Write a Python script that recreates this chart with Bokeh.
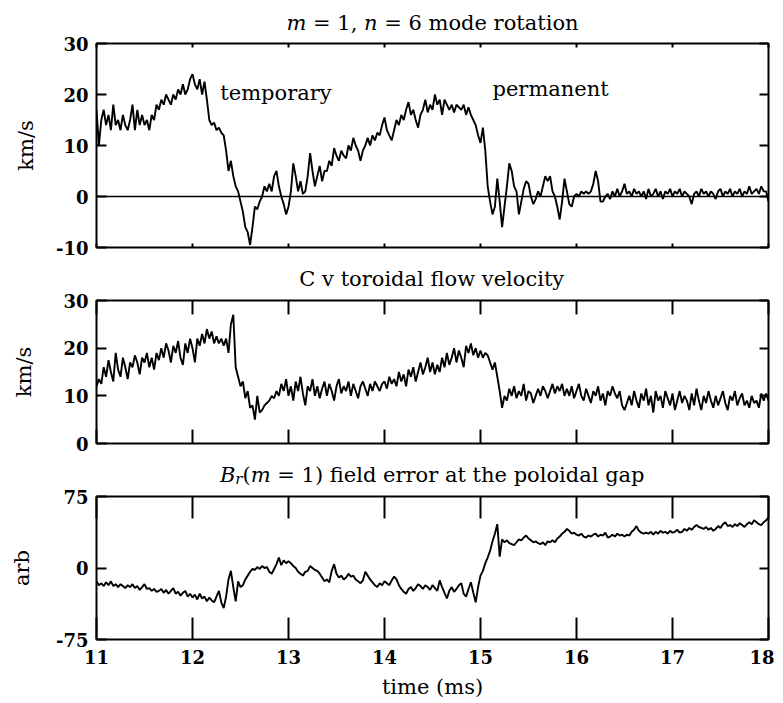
import numpy as np
from bokeh.plotting import figure
from bokeh.models import Range1d, FixedTicker, LinearAxis, Label, Span
from bokeh.layouts import column
from bokeh.embed import file_html
from bokeh.resources import INLINE

# ---------------- data ----------------
x_ticks = [11, 12, 13, 14, 15, 16, 17, 18]

# m=1, n=6 mode rotation (km/s), sampled every 0.025 ms from 11 to 18 ms
rotation = [
    17, 10, 15, 17, 14, 16, 13, 18, 14, 15, 13, 16, 14, 13, 15, 18, 13, 17, 14, 16,
    14, 15, 13, 16, 15, 18, 17, 19, 18, 20, 19, 18, 20, 19, 21, 20, 22, 20, 21, 23,
    24, 22, 21, 23, 20, 22.5, 19, 15, 14, 14.5, 13, 13.5, 12.5, 12, 9, 5, 7, 4, 2, 1,
    -1, -3, -6, -7, -9.5, -6, -2, -2.5, -1, 0, 2, 1, 2.5, 1, 4, 5, 2, 0, -1.5, -3.5,
    -2, 1, 6.5, 4, 1, 3, 0.5, 1, 4, 8.5, 5, 2, 4, 6, 3, 5, 5, 7, 6, 9.5,
    8, 7, 9, 8, 7.5, 10, 9, 11.5, 10, 9, 7, 9, 10, 11.5, 10, 12, 11, 12.5, 12, 14,
    15.5, 13, 12, 11, 13, 15, 14, 16, 15, 17, 18.5, 16, 17, 15, 13.5, 16, 17, 19, 16.5, 18,
    17, 20, 18, 19, 16, 19, 18, 17, 18, 16.5, 18, 17.5, 17, 18, 16, 17.5, 16, 15, 14, 12,
    10.5, 13.5, 9, 2, -1, -3.5, -2, 3.5, -1, -6, -2, 2, 6.5, 5, 2, 1, -3.5, -1, 1.5, 3,
    2.5, 0, -1.5, -0.5, 1, 0, 2, 4, 3, 4, 1, 0, -2, -4.5, -1, 3.5, 1, -1.5, -2, 0,
    0.5, 0, 1, 0.5, 1, 0.5, 1, 2.5, 5, 3, -1, -1, 0, 0.5, -0.5, 1, 0, 1.5, 0, 1,
    2.5, 0.5, 1, 0, 1.5, 0.5, 1, 0, 1, -0.5, 1.5, 0, 0.5, 1.5, 0, 1, -0.5, 1, 0.5, 1.5,
    0, 1, 0.5, 1.5, 0, 1, 0.5, 0, -1.5, 0.5, 1, 0, 1.5, 0.5, 1, 0, 1, 0.5, -0.5, 1,
    1.5, 0, 1, 0.5, 1.5, 0, 1, 0.5, 1.5, 0, 1, 0.5, 2, 0.5, 1, 1.5, 0.5, 2, 1, 1,
    -1,
]

# C v toroidal flow velocity (km/s)
flow = [
    12, 13.5, 12.5, 16, 14, 17.5, 15, 13, 19, 15.5, 14, 18, 16, 13.5, 17, 16, 18.5, 17, 14.5, 18,
    17, 19, 16, 18, 15.5, 19, 17.5, 20, 18, 21, 19.5, 17, 20.5, 19, 21.5, 18, 16.5, 21, 19, 22,
    20, 17, 22, 20.5, 23, 21, 24, 22, 23.5, 21, 22.5, 21, 22, 20.5, 22, 19, 25, 27, 16, 14,
    12, 13, 9.5, 11, 7.5, 8, 5, 10, 6.5, 7, 8, 8.5, 9, 10, 9.5, 11, 10, 12.5, 11, 13.5,
    10, 12, 9, 13, 11, 14, 10.5, 8, 12, 11, 13.5, 10, 12, 9.5, 11.5, 13, 10, 12.5, 11, 9,
    12, 13.5, 10.5, 12, 11, 13, 10, 12.5, 11, 9.5, 12, 13, 11.5, 10, 12.5, 11, 13, 12, 11, 12.5,
    13, 11.5, 14, 12.5, 13.5, 12, 15, 13, 14.5, 12, 15.5, 14, 16, 13, 15, 17, 14.5, 16, 18, 15,
    17, 14.5, 16.5, 15, 18, 16, 19, 16.5, 18, 20, 17, 19.5, 18, 16, 20.5, 19, 21, 18.5, 20, 18,
    19.5, 18, 19, 18.5, 17, 15.5, 17, 14, 11, 7.5, 10, 9, 11.5, 10, 12, 9.5, 11, 10, 12.5, 9,
    11, 10.5, 8.5, 10, 11.5, 10, 12, 11, 9.5, 11, 12.5, 10.5, 12, 11, 12.5, 10, 11.5, 10, 12, 9.5,
    11, 12.5, 10, 9, 11.5, 10, 8.5, 11, 10, 12, 9, 10.5, 8, 11, 10, 12, 10.5, 9.5, 11, 8,
    7, 8.5, 10, 8, 11, 9, 7.5, 10.5, 9, 11.5, 8, 10, 6.5, 11, 9, 10, 7.5, 11, 9.5, 8,
    10.5, 7, 9, 11, 8.5, 10, 9, 7, 10.5, 8, 11.5, 9, 7, 10, 8.5, 11, 9, 7.5, 10, 8,
    9.5, 11, 8.5, 7, 10, 9, 11, 8, 9.5, 10.5, 8, 9, 7.5, 10, 8.5, 9, 7.5, 10.5, 9, 10.5,
    9,
]

# B_r(m=1) field error at the poloidal gap (arb)
field = [
    -14, -18, -16, -19, -15, -18, -14, -19, -17, -20, -17, -19, -21, -18, -20, -17, -21, -19, -23, -20,
    -17, -22, -21, -24, -22, -25, -24, -22, -26, -23, -27, -24, -21, -27, -25, -29, -26, -24, -30, -27,
    -31, -28, -33, -27, -32, -30, -35, -31, -34, -36, -30, -24, -36, -42, -30, -12, -3, -20, -35, -14,
    -20, -18, -12, -8, -4, -1, -2, 1, -1, 2, 0, 1, -4, -6, -1, 4, 11, 3, 8, 5,
    7, 5, 2, 0, -4, -6, -8, -4, -3, 2, 0, -2, -3, -6, -10, -14, -12, -15, -3, 4,
    -6, -10, -8, -12, -10, -6, -9, -8, -12, -14, -16, -13, -4, -8, -12, -15, -18, -20, -16, -18,
    -14, -16, -18, -13, -9, -12, -18, -22, -25, -27, -22, -20, -24, -21, -17, -19, -22, -18, -20, -23,
    -18, -21, -24, -13, -20, -26, -32, -24, -20, -25, -22, -18, -16, -27, -30, -22, -15, -26, -36, -20,
    -8, -3, 5, 11, 18, 28, 36, 46, 12, 30, 27, 29, 26, 25, 24, 27, 30, 29, 32, 34,
    31, 29, 27, 28, 26, 25, 27, 24, 28, 27, 29, 27, 31, 33, 36, 38, 41, 39, 36, 37,
    35, 34, 36, 33, 32, 34, 33, 35, 36, 33, 35, 34, 37, 32, 33, 35, 33, 36, 34, 35,
    33, 35, 34, 38, 40, 44, 39, 37, 36, 37, 36, 38, 35, 38, 36, 39, 37, 38, 36, 39,
    37, 38, 40, 37, 38, 41, 39, 42, 40, 43, 45, 43, 42, 41, 43, 40, 42, 39, 41, 44,
    42, 46, 48, 44, 45, 43, 46, 44, 47, 45, 43, 46, 48, 46, 50, 48, 46, 45, 48, 50,
    53,
]

# ---------------- styling helpers ----------------
FONT = "DejaVu Serif"
FIG_W = 774
LEFT = 96
RIGHT = 6
FRAME_W = FIG_W - LEFT - RIGHT
BASE_FIX = 8   # the rendered alphabetic baseline sits this many px lower
W = {' ': .318, '(': .390, ')': .390, ',': .318, '=': .838, 'B': .733, 'C': .734,
     'a': .596, 'b': .640, 'c': .560, 'd': .640, 'e': .592, 'f': .370, 'g': .640,
     'h': .644, 'i': .320, 'k': .610, 'l': .320, 'm': .948, 'n': .644, 'o': .602,
     'p': .640, 'r': .478, 's': .513, 't': .402, 'v': .586, 'w': .868, 'y': .586}


def text_width(s, size):
    return sum(W.get(ch, .636) for ch in s) * size


def add_axis(p, side, ticks, tick_in, labels=False, overrides=None):
    ax = LinearAxis(ticker=FixedTicker(ticks=ticks))
    ax.major_tick_in = tick_in
    ax.major_tick_out = 0
    ax.minor_tick_in = 0
    ax.minor_tick_out = 0
    ax.major_tick_line_width = 2
    ax.major_tick_line_color = "black"
    ax.axis_line_color = None
    if labels:
        ax.major_label_text_font = FONT
        ax.major_label_text_font_size = "18px"
        ax.major_label_text_font_style = "bold"
        ax.major_label_text_color = "black"
        if overrides:
            ax.major_label_overrides = overrides
    else:
        ax.major_label_text_font_size = "0px"
        ax.major_label_standoff = 0
        ax.major_label_overrides = {t: "" for t in ticks}
    p.add_layout(ax, side)
    return ax


def make_panel(height, top, bottom, yr, yticks, xtick_len, ylabel, ylabel_standoff,
               yoverrides, xlabels=False):
    p = figure(width=FIG_W, height=height, x_range=Range1d(11, 18), y_range=Range1d(*yr),
               output_backend="svg", toolbar_location=None,
               x_axis_type=None, y_axis_type=None,
               min_border_left=LEFT, min_border_right=RIGHT,
               min_border_top=top, min_border_bottom=bottom)
    p.outline_line_color = "black"
    p.outline_line_width = 2
    p.background_fill_color = "white"
    p.border_fill_color = "white"
    bx = add_axis(p, "below", x_ticks, xtick_len, labels=xlabels)
    add_axis(p, "above", x_ticks, xtick_len)
    ly = add_axis(p, "left", yticks, 10, labels=True, overrides=yoverrides)
    ly.major_label_standoff = 8
    ly.axis_label = ylabel
    ly.axis_label_text_font = FONT
    ly.axis_label_text_font_size = "21px"
    ly.axis_label_text_font_style = "normal"
    ly.axis_label_text_color = "black"
    ly.axis_label_standoff = ylabel_standoff
    add_axis(p, "right", yticks, 9)
    return p, bx


def title_strip(height, pieces, baseline):
    """A white strip above a panel; ranges are in pixels of its frame."""
    s = figure(width=FIG_W, height=height, x_range=Range1d(0, FRAME_W),
               y_range=Range1d(0, height),
               output_backend="svg", toolbar_location=None,
               x_axis_type=None, y_axis_type=None,
               min_border_left=LEFT, min_border_right=RIGHT,
               min_border_top=0, min_border_bottom=0)
    s.outline_line_color = None
    s.background_fill_color = "white"
    s.border_fill_color = "white"
    total = sum(text_width(t, sz) for t, _, sz, _ in pieces)
    x = FRAME_W / 2 - total / 2
    for t, style, sz, dy in pieces:
        lead = len(t) - len(t.lstrip(" "))
        body = t.strip(" ")
        s.add_layout(Label(x=x + text_width(" " * lead, sz), y=baseline + BASE_FIX + dy, text=body,
                           text_font=FONT, text_font_size=f"{sz}px", text_font_style=style,
                           text_align="left", text_baseline="alphabetic", text_color="black"))
        x += text_width(t, sz)
    return s


# ---------------- panel 1: mode rotation ----------------
s1 = title_strip(33, [("m", "italic", 21, 0), (" = 1, ", "normal", 21, 0), ("n", "italic", 21, 0),
                      (" = 6 mode rotation", "normal", 21, 0)], 3)
t1 = np.linspace(11, 18, len(rotation))
p1, _ = make_panel(224, 10, 10, (-10, 30), [-10, 0, 10, 20, 30], 4, "km/s", 15,
                   {-10: "-10", 0: "0", 10: "10", 20: "20", 30: "30"})
p1.add_layout(Span(location=0, dimension="width", line_color="black", line_width=1.6))
p1.line(t1, rotation, line_color="black", line_width=1.9)
for txt, xx, yy in [("temporary", 12.29, 20.2), ("permanent", 15.125, 21.0)]:
    p1.add_layout(Label(x=xx, y=yy, text=txt, text_font=FONT, text_font_size="21px",
                        text_align="left", text_baseline="alphabetic", text_color="black"))

# ---------------- panel 2: C v toroidal flow ----------------
s2 = title_strip(33, [("C v toroidal flow velocity", "normal", 21, 0)], 4)
t2 = np.linspace(11, 18, len(flow))
p2, _ = make_panel(163, 10, 10, (0, 30), [0, 10, 20, 30], 14, "km/s", 24,
                   {0: "0", 10: "10", 20: "20", 30: "30"})
p2.line(t2, flow, line_color="black", line_width=1.9)

# ---------------- panel 3: field error ----------------
s3 = title_strip(33, [("B", "italic", 21, 0), ("r", "italic", 15, -4), ("(", "normal", 21, 0),
                      ("m", "italic", 21, 0),
                      (" = 1) field error at the poloidal gap", "normal", 21, 0)], 4)
t3 = np.linspace(11, 18, len(field))
p3, bx3 = make_panel(215, 10, 62, (-75, 75), [-75, 0, 75], 22, "arb", 19,
                     {-75: "-75", 0: "0", 75: "75"}, xlabels=True)
bx3.major_label_standoff = 10
bx3.axis_label = "time (ms)"
bx3.axis_label_text_font = FONT
bx3.axis_label_text_font_size = "21px"
bx3.axis_label_text_font_style = "normal"
bx3.axis_label_text_color = "black"
bx3.axis_label_standoff = 8
p3.line(t3, field, line_color="black", line_width=1.9)

layout = column(s1, p1, s2, p2, s3, p3)
open("out.html", "w").write(file_html(layout, INLINE))
